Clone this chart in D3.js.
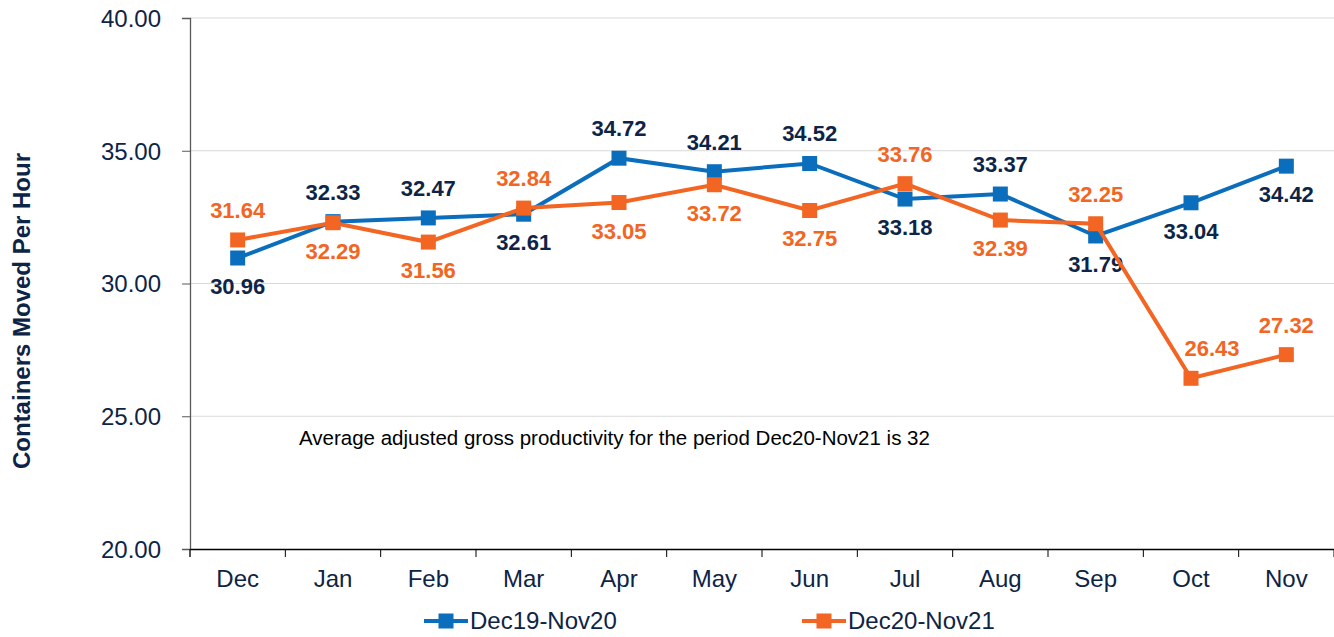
<!DOCTYPE html>
<html>
<head>
<meta charset="utf-8">
<script src="https://cdn.jsdelivr.net/npm/d3@7"></script>
<style>
body{margin:0;background:#fff;}
text{font-family:"Liberation Sans",Arial,sans-serif;}
</style>
</head>
<body>
<svg width="1334" height="637"></svg>
<script>
// chart data
var months = ["Dec","Jan","Feb","Mar","Apr","May","Jun","Jul","Aug","Sep","Oct","Nov"];
var series1 = [30.96,32.33,32.47,32.61,34.72,34.21,34.52,33.18,33.37,31.79,33.04,34.42];
var series2 = [31.64,32.29,31.56,32.84,33.05,33.72,32.75,33.76,32.39,32.25,26.43,27.32];
var seriesNames = ["Dec19-Nov20","Dec20-Nov21"];
// label above (-1) or below (1) the point
var pos1 = [1,-1,-1,1,-1,-1,-1,1,-1,1,1,1];
var pos2 = [-1,1,1,-1,1,1,1,-1,1,-1,-1,-1];
var yTicks = [20,25,30,35,40];

var navy = "#0e2446", blue = "#0a6ebd", orange = "#f26522";
var svg = d3.select('svg');
var pLeft = 190, pRight = 1334, pTop = 18, pBottom = 549;

var x = d3.scaleBand().domain(months).range([pLeft,pRight]);
var y = d3.scaleLinear().domain([20,40]).range([pBottom,pTop]);

// gridlines
svg.selectAll('line.grid').data(yTicks.slice(1)).enter().append('line')
    .attr('x1',pLeft).attr('x2',pRight)
    .attr('y1',function(d){return y(d);}).attr('y2',function(d){return y(d);})
    .attr('stroke','#d9d9d9').attr('stroke-width',1);

// y axis
var yAxis = svg.append('g').attr('transform','translate('+pLeft+',0)')
    .call(d3.axisLeft(y).tickValues(yTicks).tickFormat(d3.format('.2f')).tickSize(8).tickPadding(21));
yAxis.select('.domain').attr('stroke','#595959').attr('stroke-width',1.3);
yAxis.selectAll('.tick line').attr('stroke','#595959');
yAxis.selectAll('text').attr('fill',navy).attr('dy','0.35em').style('font-size','24px').style('font-family','"Liberation Sans",Arial,sans-serif');
yAxis.append('line').attr('x1',0).attr('x2',0).attr('y1',pBottom).attr('y2',pBottom+8).attr('stroke','#595959');

// x axis
var xAxis = svg.append('g').attr('transform','translate(0,'+pBottom+')')
    .call(d3.axisBottom(x).tickSize(0).tickPadding(21));
xAxis.select('.domain').attr('stroke','#000').attr('stroke-width',1.3);
xAxis.selectAll('text').attr('fill',navy).style('font-size','24px').style('font-family','"Liberation Sans",Arial,sans-serif');
var bounds = months.map(function(m){return x(m);}).concat([pRight]);
xAxis.selectAll('line.sep').data(bounds).enter().append('line')
    .attr('x1',function(d){return d;}).attr('x2',function(d){return d;})
    .attr('y1',0).attr('y2',8).attr('stroke','#000');

// axis title
svg.append('text').attr('transform','translate(30,311) rotate(-90)')
    .attr('text-anchor','middle').attr('fill',navy)
    .style('font-size','24px').style('font-weight','bold')
    .text('Containers Moved Per Hour');

// annotation
svg.append('text').attr('x',299).attr('y',445).attr('fill','#000')
    .style('font-size','20.5px')
    .text('Average adjusted gross productivity for the period Dec20-Nov21 is 32');

var cx = function(d,i){return x(months[i])+x.bandwidth()/2;};
var line = d3.line().x(cx).y(function(d){return y(d);});

function drawSeries(vals,color,labelColor,pos,nudge){
    var g = svg.append('g');
    g.append('path').datum(vals).attr('d',line)
        .attr('fill','none').attr('stroke',color).attr('stroke-width',4);
    g.selectAll('rect').data(vals).enter().append('rect')
        .attr('x',function(d,i){return cx(d,i)-7.5;})
        .attr('y',function(d){return y(d)-7.5;})
        .attr('width',15).attr('height',15).attr('fill',color);
    g.selectAll('text').data(vals).enter().append('text')
        .attr('x',function(d,i){return cx(d,i)+(nudge[i]||0);})
        .attr('y',function(d,i){return y(d)+(pos[i]>0?36:-22);})
        .attr('text-anchor','middle').attr('fill',labelColor)
        .style('font-size','22px').style('font-weight','bold')
        .text(function(d){return d3.format('.2f')(d);});
}
drawSeries(series1,blue,navy,pos1,{});
// the Oct label sits a bit to the right of its point, clear of the steep line
drawSeries(series2,orange,orange,pos2,{10:21});

// legend
var legendX = [424,802], colors = [blue,orange];
seriesNames.forEach(function(name,i){
    var lg = svg.append('g').attr('transform','translate('+legendX[i]+',621)');
    lg.append('line').attr('x1',0).attr('x2',44).attr('y1',0).attr('y2',0)
        .attr('stroke',colors[i]).attr('stroke-width',4);
    lg.append('rect').attr('x',14.5).attr('y',-7.5).attr('width',15).attr('height',15).attr('fill',colors[i]);
    lg.append('text').attr('x',46).attr('y',7.5).attr('fill',navy)
        .style('font-size','24px').text(name);
});
</script>
</body>
</html>
